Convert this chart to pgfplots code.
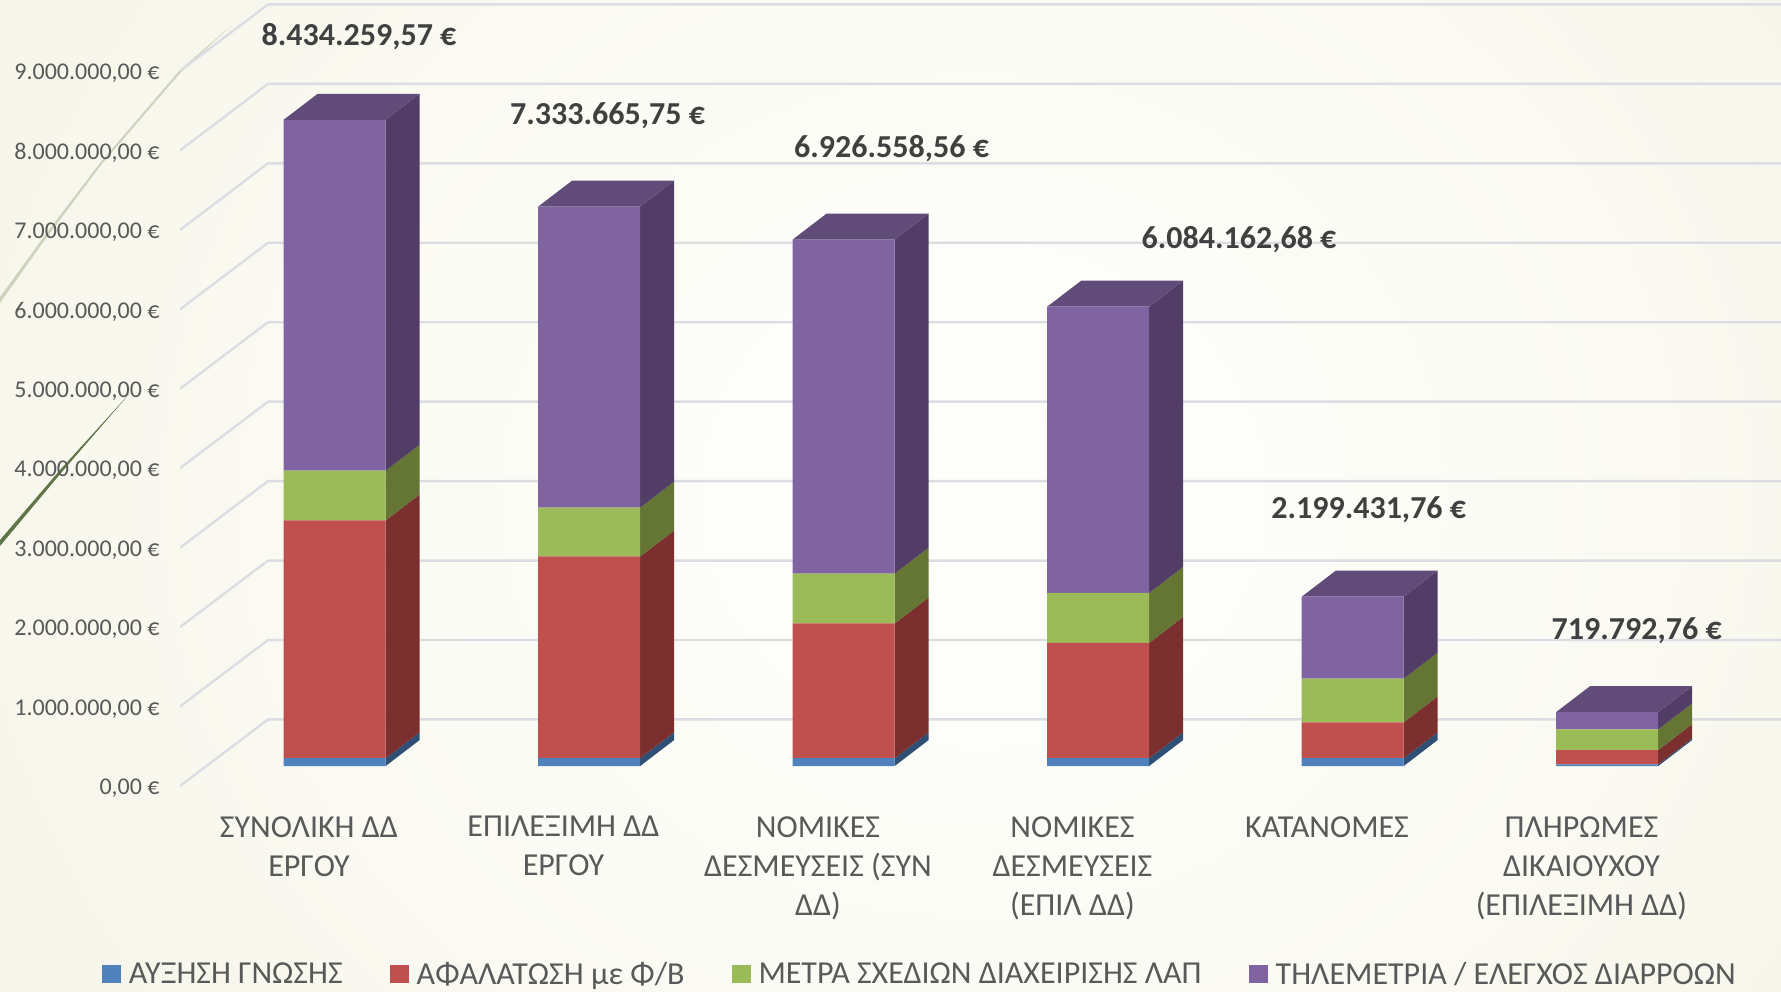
\documentclass[border=0pt]{standalone}
\usepackage{fontspec}
\setmainfont{Carlito}
\usepackage{pgfplots}
\usepackage{pgfplotstable}
\pgfplotsset{compat=1.18}
\definecolor{cB}{HTML}{4F81BD}\definecolor{cR}{HTML}{C0504D}\definecolor{cG}{HTML}{9BBB59}\definecolor{cP}{HTML}{8064A2}
\definecolor{sB}{HTML}{2F4F74}\definecolor{sR}{HTML}{7B2F2E}\definecolor{sG}{HTML}{647534}\definecolor{sP}{HTML}{513D66}
\definecolor{tP}{HTML}{614B79}\definecolor{gridc}{HTML}{DCDDE2}\definecolor{txt}{HTML}{595959}\definecolor{lab}{HTML}{404040}
\definecolor{bg0}{HTML}{FEFEFC}\definecolor{bg1}{HTML}{FBFBF5}\definecolor{bg2}{HTML}{F6F5E9}\definecolor{bg3}{HTML}{EFEDD9}\definecolor{bg4}{HTML}{EBE8D0}
\definecolor{pale}{HTML}{CFD2BC}\definecolor{dgreen}{HTML}{5F7548}
\pgfdeclareradialshading{bgshade}{\pgfpoint{3bp}{0bp}}{color(0bp)=(bg0); color(16bp)=(bg1); color(31bp)=(bg2); color(44bp)=(bg3); color(58bp)=(bg4)}
\pgfplotstableread{
x blue red green purple
0 0.102 3.113 0.651 4.592
1 0.102 2.641 0.639 3.940
2 0.102 1.764 0.653 4.372
3 0.102 1.510 0.654 3.746
4 0.102 0.470 0.571 1.073
5 0.022 0.187 0.271 0.226
}\bars
\newcommand{\sideface}[4]{\addplot[fill=#4,draw=none] coordinates {({#1+0.2004},#2) ({#1+0.3340},{#2+0.3403}) ({#1+0.3340},{#3+0.3403}) ({#1+0.2004},#3)} --cycle;}
\newcommand{\barfaces}[5]{%
 \sideface{#1}{0}{#2}{sB}\sideface{#1}{#2}{#3}{sR}\sideface{#1}{#3}{#4}{sG}\sideface{#1}{#4}{#5}{sP}%
 \addplot[fill=tP,draw=none] coordinates {({#1-0.2004},#5) ({#1+0.2004},#5) ({#1+0.3340},{#5+0.3403}) ({#1-0.0668},{#5+0.3403})} --cycle;}
\newcommand{\gridl}[1]{\addplot[gridc,line width=1.2pt] coordinates {(180,#1) (268,{#1+0.838}) (1781,{#1+0.838})};}
\pgfplotsset{barsaxis/.style={scale only axis,width=890.5pt,height=495.5pt,at={(0pt,-495.5pt)},anchor=south west,
 xmin=-1.315,xmax=5.683,ymin=-2.945,ymax=10.026,hide axis}}
\begin{document}
\begin{tikzpicture}
\useasboundingbox (0pt,0pt) rectangle (890.5pt,-495.5pt);
\begin{scope}[x=0.5pt,y=-0.5pt]
\begin{scope}
\clip (0,0) rectangle (1781,991);
\shade[shading=bgshade] (0,-300) rectangle (1781,1291);
\end{scope}
\fill[color=pale] (0,297) -- (43,238) -- (100,163) -- (180,70) -- (232,25) -- (181,72) -- (101,165) -- (44,241) -- (0,303) -- cycle;
\fill[color=dgreen] (0,540) -- (60,470) -- (130,393) -- (61,473) -- (0,546) -- cycle;
\end{scope}
\begin{axis}[scale only axis,width=800.5pt,height=393pt,at={(90pt,-393pt)},anchor=south west,
 xmin=180,xmax=1781,ymin=0,ymax=9.894,
 axis line style={draw=none},major tick length=0pt,
 ytick={0,1,2,3,4,5,6,7,8,9},
 yticklabels={{0,00 €},{1.000.000,00 €},{2.000.000,00 €},{3.000.000,00 €},{4.000.000,00 €},{5.000.000,00 €},{6.000.000,00 €},{7.000.000,00 €},{8.000.000,00 €},{9.000.000,00 €}},
 yticklabel style={font=\fontsize{12}{14}\selectfont,text=txt,anchor=east,yshift=-1.1pt},
 ytick pos=left,xtick pos=bottom,
 tick label style={inner sep=0pt},
 xtick={309,563.5,818,1072.5,1327,1581.5},
 xticklabels={{ΣΥΝΟΛΙΚΗ ΔΔ\\ΕΡΓΟΥ},{ΕΠΙΛΕΞΙΜΗ ΔΔ\\ΕΡΓΟΥ},{ΝΟΜΙΚΕΣ\\ΔΕΣΜΕΥΣΕΙΣ (ΣΥΝ\\ΔΔ)},{ΝΟΜΙΚΕΣ\\ΔΕΣΜΕΥΣΕΙΣ\\(ΕΠΙΛ ΔΔ)},{ΚΑΤΑΝΟΜΕΣ},{ΠΛΗΡΩΜΕΣ\\ΔΙΚΑΙΟΥΧΟΥ\\(ΕΠΙΛΕΞΙΜΗ ΔΔ)}},
 xticklabel style={font=\fontsize{16}{19.5}\selectfont,text=txt,align=center,anchor=north},
 xticklabel shift=15pt, yticklabel shift=10pt]
 \gridl{0}\gridl{1}\gridl{2}\gridl{3}\gridl{4}\gridl{5}\gridl{6}\gridl{7}\gridl{8}\gridl{9}
\end{axis}
\begin{axis}[barsaxis]
 \barfaces{0}{0.102}{3.215}{3.866}{8.458}
 \barfaces{1}{0.102}{2.743}{3.382}{7.322}
 \barfaces{2}{0.102}{1.866}{2.519}{6.891}
 \barfaces{3}{0.102}{1.612}{2.266}{6.012}
 \barfaces{4}{0.102}{0.572}{1.143}{2.216}
 \barfaces{5}{0.022}{0.209}{0.480}{0.706}
\end{axis}
\begin{axis}[barsaxis,ybar stacked,bar width=0.4008,
 legend columns=4,
 legend image code/.code={\fill[#1,draw=none] (0pt,-4.5pt) rectangle (9.3pt,4.8pt);},
 legend style={at={(0.0572,0.0167)},anchor=west,draw=none,fill=none,inner sep=0pt,
   font=\fontsize{16}{19}\selectfont,text=txt,
   /tikz/column 1/.style={column sep=2pt},/tikz/column 3/.style={column sep=2pt},/tikz/column 5/.style={column sep=2pt},/tikz/column 7/.style={column sep=2pt},
   /tikz/column 2/.style={column sep=21.7pt},/tikz/column 4/.style={column sep=21.7pt},/tikz/column 6/.style={column sep=21.7pt}}]
 \addplot[fill=cB,draw=none] table[x=x,y=blue]{\bars};
 \addplot[fill=cR,draw=none] table[x=x,y=red]{\bars};
 \addplot[fill=cG,draw=none] table[x=x,y=green]{\bars};
 \addplot[fill=cP,draw=none] table[x=x,y=purple]{\bars};
 \legend{ΑΥΞΗΣΗ ΓΝΩΣΗΣ,ΑΦΑΛΑΤΩΣΗ με Φ/Β,ΜΕΤΡΑ ΣΧΕΔΙΩΝ ΔΙΑΧΕΙΡΙΣΗΣ ΛΑΠ,ΤΗΛΕΜΕΤΡΙΑ / ΕΛΕΓΧΟΣ ΔΙΑΡΡΟΩΝ}
\end{axis}
\begin{scope}[x=0.5pt,y=-0.5pt,every node/.style={font=\bfseries\fontsize{16}{18}\selectfont,text=lab,inner sep=0pt}]
\node at (359,37) {8.434.259,57 €};
\node at (607.6,116) {7.333.665,75 €};
\node at (891.6,149) {6.926.558,56 €};
\node at (1239,240) {6.084.162,68 €};
\node at (1368.7,510) {2.199.431,76 €};
\node at (1636.7,631) {719.792,76 €};
\end{scope}
\end{tikzpicture}%
\end{document}
